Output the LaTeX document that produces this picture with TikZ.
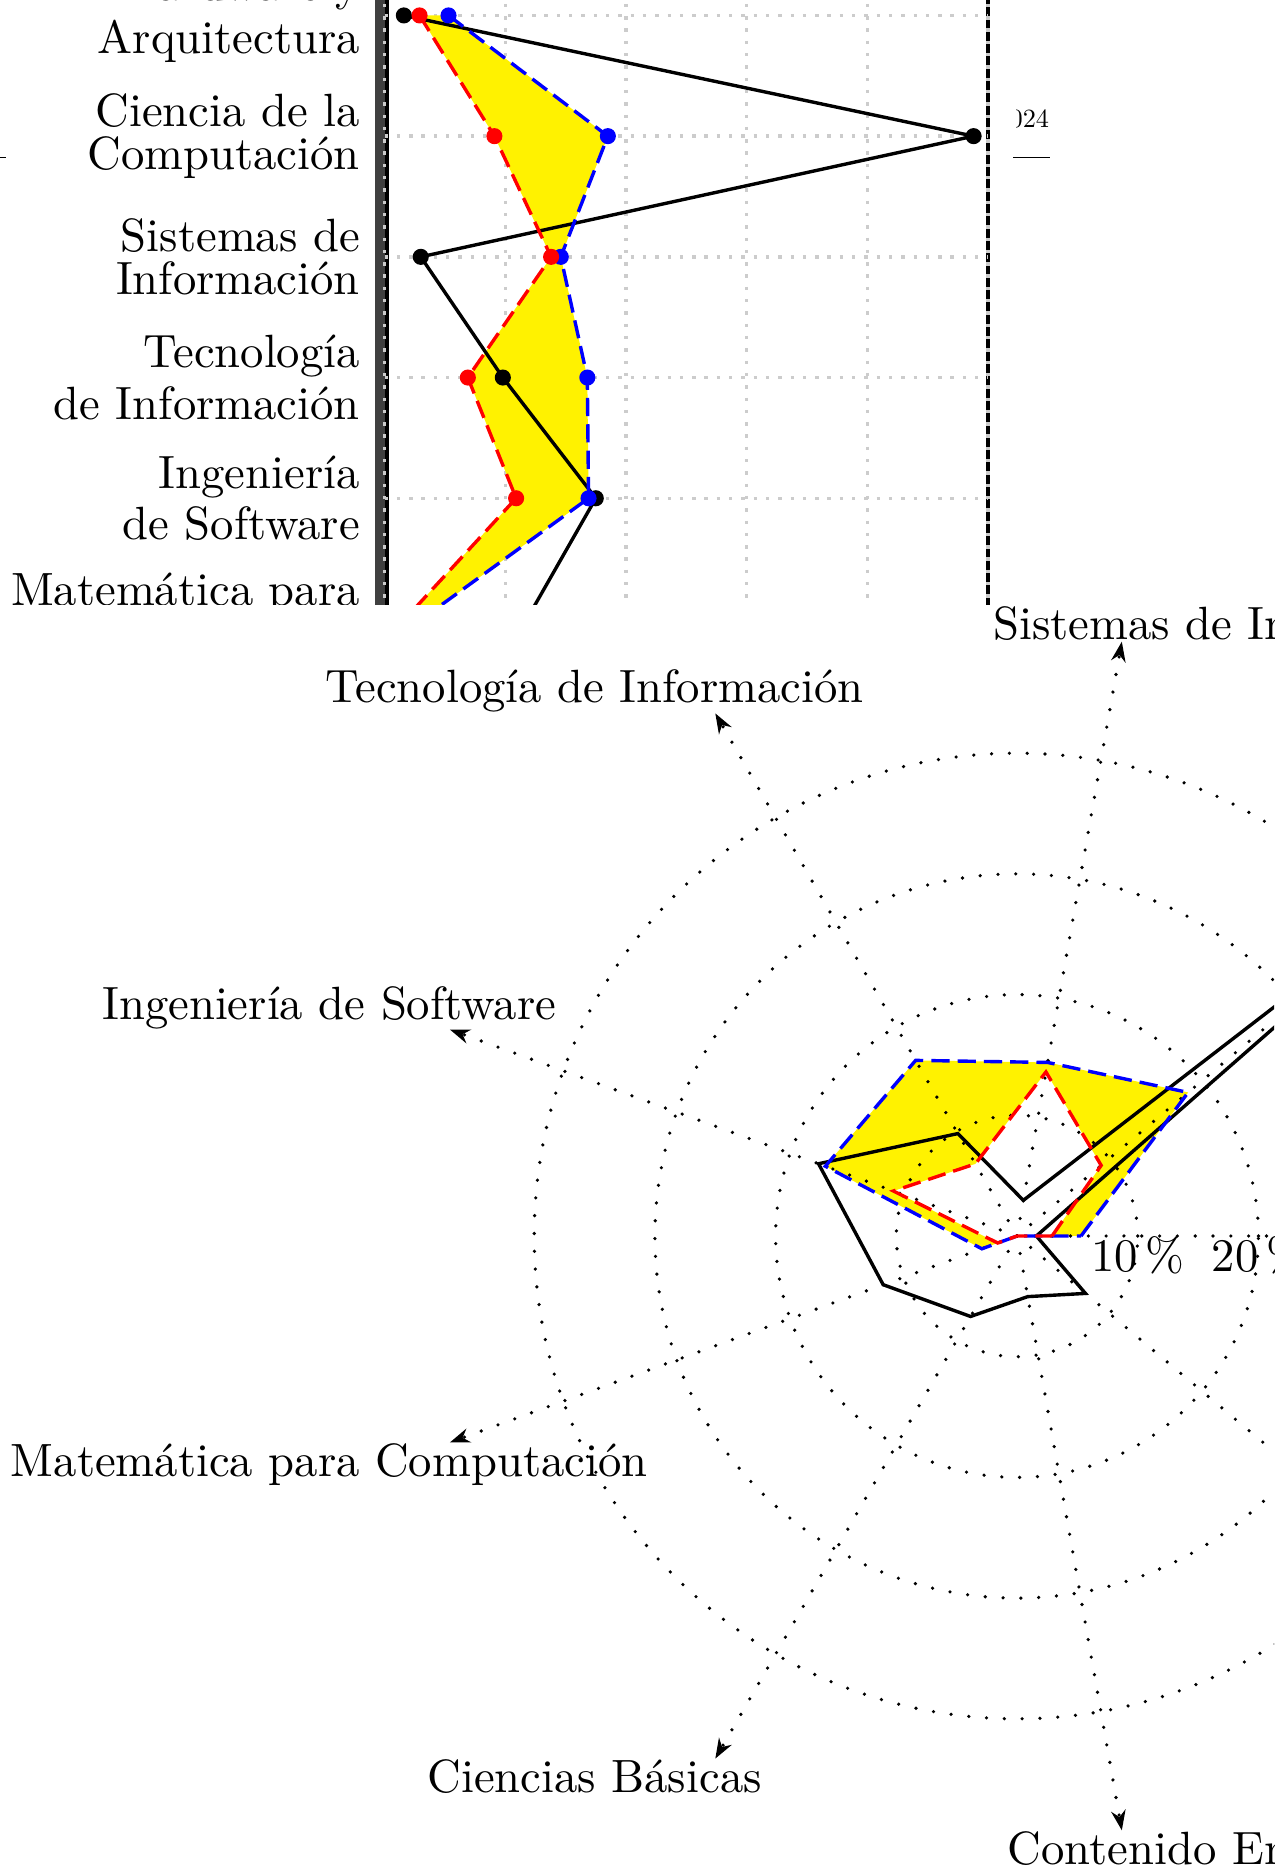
\documentclass[tikz,border=0pt]{standalone}
\usepackage{fontspec}
\setmainfont{lmroman10-regular.otf}
\usetikzlibrary{calc,arrows.meta}

\newcommand{\negros}{0.16,4.88,0.30,0.98,1.75,1.18,0.77,0.51,0.74}
\newcommand{\rojos}{0.29,0.91,1.38,0.69,1.09,0.17,0,0,0}
\newcommand{\azules}{0.53,1.85,1.46,1.68,1.69,0.31,0,0,0}

\newcommand{\barrapuntos}[2]{%
\foreach \v [count=\i from 0] in #2 {\coordinate (#1\i) at (\v,-\i);}
}
\newcommand{\radarpuntos}[2]{%
\foreach \v [count=\i from 0] in #2 {\coordinate (#1\i) at (\i*40:\v);}
}
\newcommand{\trazo}[2]{%
\draw[#1] (#20) \foreach \i in {1,...,5} {-- (#2\i)};
\foreach \i in {0,...,5} {\fill[#1] (#2\i) circle (1.9pt);}
}
\newcommand{\poligono}[2]{%
\draw[#1] (#20) \foreach \i in {1,...,8} {-- (#2\i)} -- cycle;
}
\newcommand{\renglones}[2]{%
\vbox{\baselineskip=0pt\lineskip=2.2pt\lineskiplimit=0pt\halign{\hfil##\cr#1\cr#2\cr}}%
}

\tikzset{
rejilla/.style={black!20, line width=0.8pt, dash pattern=on 0.8pt off 2.1pt},
punteado/.style={line width=0.85pt, line cap=round, dash pattern=on 0pt off 4.2pt},
negro/.style={black, thick},
azul/.style={blue, thick, dash pattern=on 4.3pt off 1.9pt},
rojo/.style={red, thick, dash pattern=on 4.3pt off 1.9pt},
etiq/.style={font=\fontsize{11}{13}\selectfont},
}

\begin{document}
\begin{tikzpicture}

\useasboundingbox (-8.426,-5.236) rectangle (2.129,10.24);
\clip (-8.426,-5.236) rectangle (2.129,10.24);


\begin{scope}
\clip (-8.5,5.228) rectangle (-0.04,10.3);
\begin{scope}[shift={(-5.24,10.112)}]

\fill[black!75] (-0.08,0.3) rectangle (0.02,-5);
\draw[thick] (0.02,0.3) -- (0.02,-5);
\draw[thick] (5,0.3) -- (5,-5);

\foreach \j in {0,...,5}
{
\draw[rejilla] (\j,0.3) -- (\j,-5);
}
\foreach \i in {0,...,5}
{
\draw[rejilla] (0,-\i) -- (5,-\i);
}

\foreach \a/\b [count=\i from 0] in {Hardware y/Arquitectura,Ciencia de la/Computación,Sistemas de/Información,Tecnología/de Información,Ingeniería/de Software,Matemática para/Computación}
{
\node[etiq, anchor=east] (area\i) at (-0.08,-\i) {\renglones{\a}{\b}};
}

\barrapuntos{tk}{\negros}
\barrapuntos{tb}{\azules}
\barrapuntos{tr}{\rojos}

\fill[yellow] (tb0) \foreach \i in {1,...,5} {-- (tb\i)} \foreach \i in {5,4,...,0} {-- (tr\i)} -- cycle;

\trazo{negro}{tk}
\trazo{azul}{tb}
\trazo{rojo}{tr}

\end{scope}
\end{scope}


\begin{scope}
\clip (-0.005,5.228) rectangle (2.2,10.3);
\node[anchor=base east, inner sep=0pt, font=\fontsize{6.2}{7}\selectfont] (anio) at (0.273,9.18) {2024};
\end{scope}

\coordinate (lin1) at (-0.03,8.935);
\coordinate (lin2) at (0.273,8.935);
\draw (lin1) -- (lin2);

\coordinate (izq1) at (-8.6,8.935);
\coordinate (izq2) at (-8.376,8.935);
\draw (izq1) -- (izq2);


\coordinate (centro) at (0,0);

\radarpuntos{rk}{\negros}
\radarpuntos{rb}{\azules}
\radarpuntos{rr}{\rojos}

\fill[yellow, even odd rule] (rb0) \foreach \i in {1,...,8} {-- (rb\i)} -- cycle
(rr0) \foreach \i in {1,...,8} {-- (rr\i)} -- cycle;

\foreach \r in {1,...,4}
{
\draw[punteado] (centro) circle (\r);
\node[etiq, anchor=north, inner sep=0pt] (pct\r) at (\r,0) {\r0\,\%};
}

\foreach \a in {0,40,...,320}
{
\coordinate (eje\a) at (\a:5);
\draw[punteado, -{Stealth[length=4.7pt,width=3.4pt]}] (centro) -- (eje\a);
}

\foreach \a/\dx/\anc/\t in {80/1/south/{Sistemas de Información},120/-1/south/{Tecnología de Información},160/-1/south/{Ingeniería de Software},200/-1/north/{Matemática para Computación},240/-1/north/{Ciencias Básicas},280/1/north/{Contenido Empresarial}}
{
\node[etiq, anchor=\anc, inner sep=0pt] (nom\a) at ($(eje\a)+(\dx,0)$) {\t};
}

\poligono{negro}{rk}
\poligono{azul}{rb}
\poligono{rojo}{rr}

\end{tikzpicture}
\end{document}
